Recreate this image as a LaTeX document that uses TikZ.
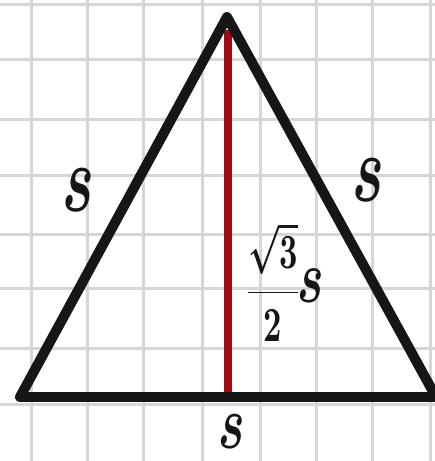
\documentclass[tikz,border=0pt]{standalone}
\usepackage{amsmath}
\usepackage{bm}
\usepackage{graphicx}
\definecolor{gridgray}{HTML}{D6D6D6}
\definecolor{inkblack}{HTML}{161616}
\definecolor{hred}{HTML}{A00A12}
\begin{document}
\begin{tikzpicture}[x=1pt,y=-1pt,
  gridline/.style={gridgray,line width=3pt},
  side/.style={inkblack,line width=10pt,line cap=round,line join=round},
  height/.style={hred,line width=8pt},
  lab/.style={inkblack,inner sep=0pt}]
\useasboundingbox (0,0) rectangle (435,461);
\fill[white] (0,0) rectangle (435,461);
\foreach \x in {31,87,143,202,260,316,372,430} \draw[gridline] (\x,0) -- (\x,461);
\foreach \y in {4,59,119,175,234,288,348,404} \draw[gridline] (0,\y) -- (435,\y);
\coordinate (A) at (227,17);
\coordinate (B) at (20,397);
\coordinate (C) at (436,397);
\coordinate (T) at (228,30);
\coordinate (F) at (228,392);
\draw[height] (T) -- (F);
\draw[side] (B) -- (A) -- (C);
\draw[side] (B) -- (C);
\node[lab] (ls) at (78,190) {\scalebox{6}[9.6]{$\bm{s}$}};
\node[lab] (rs) at (368,180) {\scalebox{6}[9.6]{$\bm{s}$}};
\node[lab] (bs) at (232,432) {\scalebox{5}[7.6]{$\bm{s}$}};
\node[lab] (hf) at (273,282) {\scalebox{3.2}[4.9]{$\bm{\dfrac{\sqrt{3}}{2}}$}};
\node[lab] (hs) at (311,286) {\scalebox{5}[7.5]{$\bm{s}$}};
\end{tikzpicture}
\end{document}
